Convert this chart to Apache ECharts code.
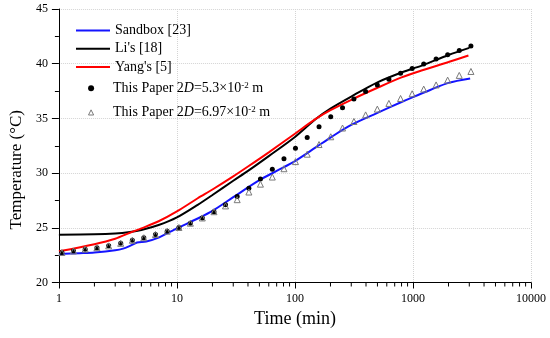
<!DOCTYPE html>
<html>
<head>
<meta charset="utf-8">
<script src="https://cdn.jsdelivr.net/npm/echarts@6/dist/echarts.min.js"></script>
<style>html,body{margin:0;padding:0;background:#fff}#c{width:550px;height:338px}</style>
</head>
<body>
<div id="c"></div>
<script>
// ---- data ----
const xTickLabels = ['1', '10', '100', '1000', '10000'];
const xMinorTicks = [2,3,4,5,6,7,8,9,20,30,40,50,60,70,80,90,200,300,400,500,600,700,800,900,2000,3000,4000,5000,6000,7000,8000,9000];

const sandboxT = [1,1.5,2,3,3.5,4,4.6,5.5,7,9,10,15,20,30,50,70,100,150,200,300,500,800,1000,1400,2000,3050];
const sandboxV = [22.6,22.68,22.75,22.95,23.1,23.35,23.65,23.75,24.1,24.7,24.95,25.85,26.55,27.8,29.35,30.2,31.1,32.35,33.25,34.4,35.5,36.5,36.95,37.6,38.25,38.65];

const liT = [1,2,3,4,5,7,10,15,20,30,40,60,100,150,200,300,500,800,1200,2000,3000];
const liV = [24.36,24.4,24.48,24.62,24.8,25.25,25.95,27.1,28.0,29.3,30.2,31.55,33.3,34.95,35.9,37.0,38.3,39.2,39.85,40.8,41.45];

const yangT = [1,2,3,4,5,7,10,15,20,30,40,60,100,150,200,300,500,800,1200,2000,2950];
const yangV = [22.85,23.5,24.0,24.55,24.95,25.6,26.5,27.7,28.5,29.7,30.6,31.9,33.6,34.95,35.75,36.7,37.8,38.75,39.4,40.15,40.75];

const paperT = [1.06,1.33,1.67,2.10,2.64,3.34,4.19,5.24,6.58,8.27,10.4,13.0,16.4,20.6,25.8,32.4,40.7,51.0,64.3,80.7,101,127,160,201,253,316,397,499,625,785,984,1233,1570,1967,2467,3098];
const paper53V = [22.74,22.88,23.05,23.18,23.35,23.58,23.86,24.09,24.39,24.69,25.03,25.42,25.90,26.47,27.10,27.85,28.61,29.46,30.35,31.32,32.28,33.26,34.24,35.15,35.98,36.78,37.45,38.05,38.58,39.13,39.56,39.97,40.42,40.81,41.21,41.61];
const paper697V = [22.74,22.88,23.05,23.18,23.35,23.58,23.86,24.09,24.39,24.69,25.03,25.42,25.90,26.47,27.0,27.57,28.27,28.99,29.64,30.4,31.05,31.73,32.61,33.32,34.12,34.72,35.32,35.85,36.37,36.82,37.25,37.68,38.06,38.5,38.93,39.29];

const names = ['Sandbox [23]', "Li's [18]", "Yang's [5]", 'This Paper 2D=5.3×10-2 m', 'This Paper 2D=6.97×10-2 m'];

const zip = (a, b) => a.map((v, i) => [v, b[i]]);
const FONT = '"Liberation Serif", "Times New Roman", serif';
const LEG = {fontFamily: FONT, fontSize: 14, color: '#000', lineHeight: 14};
const TRI = '#7a7a7a';

const chart = echarts.init(document.getElementById('c'), null, {renderer: 'canvas'});
chart.setOption({
  animation: false,
  backgroundColor: '#fff',
  textStyle: {fontFamily: FONT},
  grid: {left: 57, right: 19, top: 9, bottom: 55.5, containLabel: false},
  xAxis: {
    type: 'log', logBase: 10, min: 1, max: 10000,
    name: 'Time (min)', nameLocation: 'middle', nameGap: 28,
    nameTextStyle: {fontFamily: FONT, fontSize: 18, color: '#000'},
    axisLine: {show: true, lineStyle: {color: '#000', width: 1}},
    axisTick: {show: true, length: 6, lineStyle: {color: '#000'}},
    axisLabel: {fontFamily: FONT, fontSize: 12, color: '#000', margin: 10,
      formatter: v => xTickLabels[Math.round(Math.log10(v))]},
    splitLine: {show: true, lineStyle: {color: '#d4d4d4', type: 'dotted', width: 1}}
  },
  yAxis: {
    type: 'value', min: 20, max: 45, interval: 5,
    name: 'Temperature (°C)', nameLocation: 'middle', nameGap: 30, nameRotate: 90,
    nameTextStyle: {fontFamily: FONT, fontSize: 17, color: '#000', padding: [0, 48, 0, 0]},
    axisLine: {show: true, lineStyle: {color: '#000', width: 1}},
    axisTick: {show: true, length: 7, lineStyle: {color: '#000'}},
    minorTick: {show: true, splitNumber: 2, length: 4, lineStyle: {color: '#000'}},
    axisLabel: {fontFamily: FONT, fontSize: 12, color: '#000', margin: 11},
    splitLine: {show: true, lineStyle: {color: '#d4d4d4', type: 'dotted', width: 1}}
  },
  legend: [
    {
      data: names.slice(0, 3).map(n => ({name: n, icon: 'rect'})),
      orient: 'vertical', left: 71, top: 18.5,
      itemWidth: 34, itemHeight: 2, itemGap: 4.3,
      textStyle: LEG
    },
    {
      data: [
        {name: names[3], icon: 'circle'},
        {name: names[4], icon: 'path://M0,0M34,7M14,7L17,1L20,7Z',
         itemStyle: {color: 'rgba(0,0,0,0)', borderColor: TRI, borderWidth: 1}}
      ],
      orient: 'vertical', left: 71, top: 76.3,
      itemWidth: 34, itemHeight: 6, itemGap: 7.7,
      textStyle: Object.assign({}, LEG, {
        rich: {
          a: LEG,
          i: Object.assign({}, LEG, {fontStyle: 'italic'}),
          s: {fontFamily: FONT, fontSize: 9, color: '#000', verticalAlign: 'top', lineHeight: 14, padding: [0, 0, 7, 0]}
        }}),
      formatter: n => n === names[3]
        ? '{a|This Paper 2}{i|D}{a|=5.3×10}{s|-2}{a| m}'
        : '{a|This Paper 2}{i|D}{a|=6.97×10}{s|-2}{a| m}'
    }
  ],
  series: [
    {name: names[0], type: 'line', data: zip(sandboxT, sandboxV), smooth: 0.3, symbol: 'none',
     lineStyle: {color: '#1414ff', width: 2}, itemStyle: {color: '#1414ff'}, z: 2},
    {name: names[1], type: 'line', data: zip(liT, liV), smooth: 0.3, symbol: 'none',
     lineStyle: {color: '#000', width: 2}, itemStyle: {color: '#000'}, z: 2},
    {name: names[2], type: 'line', data: zip(yangT, yangV), smooth: 0.3, symbol: 'none',
     lineStyle: {color: '#ff0000', width: 2}, itemStyle: {color: '#ff0000'}, z: 2},
    {name: names[3], type: 'scatter', data: zip(paperT, paper53V), symbol: 'circle', symbolSize: 5,
     itemStyle: {color: '#000', opacity: 1}, z: 3},
    {name: names[4], type: 'scatter', data: zip(paperT, paper697V), symbol: 'triangle', symbolSize: 6,
     itemStyle: {color: 'rgba(0,0,0,0)', borderColor: TRI, borderWidth: 1, opacity: 1}, z: 4},
    {type: 'custom', silent: true, clip: false, z: 5,
     data: xMinorTicks.map(v => [v, 20]),
     renderItem: (params, api) => {
       const p = api.coord([api.value(0), api.value(1)]);
       return {type: 'line', shape: {x1: p[0], y1: p[1], x2: p[0], y2: p[1] + 4},
               style: {stroke: '#000', lineWidth: 1}};
     }}
  ]
});
</script>
</body>
</html>
